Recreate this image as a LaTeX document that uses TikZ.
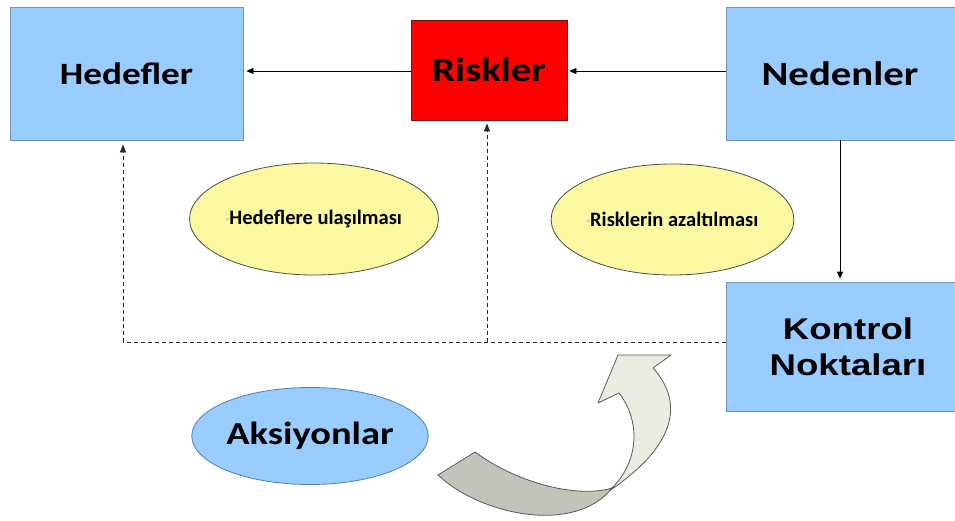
\documentclass[tikz,border=0pt]{standalone}
\usepackage{fontspec}
\usetikzlibrary{arrows.meta,shapes.geometric}
\newfontfamily\cbf[FakeStretch=1.2]{Carlito}
\newfontfamily\cbn{Carlito}
\newfontfamily\abf[FakeStretch=1.22]{Liberation Sans}
\definecolor{lblue}{HTML}{99CCFF}
\definecolor{bborder}{HTML}{7090B8}
\definecolor{rfill}{HTML}{FF0000}
\definecolor{rborder}{HTML}{7A1010}
\definecolor{yfill}{HTML}{FAF8A0}
\definecolor{aborder}{HTML}{4F7FB5}
\definecolor{darkband}{HTML}{C4C3BA}
\definecolor{lightband}{HTML}{ECEBE2}
\tikzset{
  bluebox/.style={draw=bborder, fill=lblue, line width=0.8pt, inner sep=0pt},
  redbox/.style={draw=rborder, fill=rfill, line width=0.8pt, inner sep=0pt},
  yell/.style={ellipse, draw=black!70, fill=yfill, line width=0.8pt, inner sep=0pt},
  arr/.style={-{Triangle[length=7pt,width=6pt]}, line width=0.8pt, black},
  dashline/.style={line width=0.8pt, black!85, dash pattern=on 4pt off 3pt},
  dasharr/.style={dashline, -{Triangle[length=8pt,width=6pt]}},
}
\begin{document}
\begin{tikzpicture}[x=1pt,y=-1pt]
\useasboundingbox (0,0) rectangle (955,520);
\clip (0,0) rectangle (955,520);

% boxes
\node[bluebox, minimum width=233pt, minimum height=133pt] (hed) at (126.5,73.5)
  {\cbf\bfseries\fontsize{31}{35}\selectfont Hedefler};
\node[redbox, minimum width=156pt, minimum height=100pt] (ris) at (489,70)
  {\cbf\bfseries\fontsize{34}{38}\selectfont Riskler};
\node[bluebox, minimum width=232pt, minimum height=133pt] (ned) at (842,73.5)
  {\hspace*{-4pt}\cbf\bfseries\fontsize{34}{38}\selectfont Nedenler};
\node[bluebox, minimum width=232pt, minimum height=129pt, align=center,
      font=\abf\bfseries\fontsize{30}{36}\selectfont, text depth=0pt] (kon) at (842,346.5)
  {\hspace*{12pt}Kontrol\\\hspace*{12pt}Noktaları};

% ellipses
\node[yell, minimum width=226pt, minimum height=112pt] (e1) at (314,219)
  {\raisebox{-7pt}{\cbn\bfseries\fontsize{20.5}{24}\selectfont{\color{black!20}\fontsize{7}{7}\selectfont\raisebox{3pt}{•}}Hedeflere ulaşılması}};
\node[yell, minimum width=225pt, minimum height=111pt] (e2) at (672.5,219.5)
  {\raisebox{-7pt}{\cbn\bfseries\fontsize{20.5}{24}\selectfont{\color{black!20}\fontsize{7}{7}\selectfont\raisebox{3pt}{•}}Risklerin azaltılması}};
\node[ellipse, draw=aborder, fill=lblue, line width=0.8pt, inner sep=0pt,
      minimum width=236pt, minimum height=97pt] (aks) at (310,436)
  {\cbf\bfseries\fontsize{32}{36}\selectfont Aksiyonlar};

% solid arrows
\coordinate (ya) at (0,71);
\draw[arr, shorten >=3pt] (ris.west |- ya) -- (hed.east |- ya);
\draw[arr, shorten >=2pt] (ned.west |- ya) -- (ris.east |- ya);
\coordinate (xv) at (840,0);
\draw[arr, shorten >=3pt] (ned.south -| xv) -- (kon.north -| xv);

% dashed connectors
\coordinate (d1) at (123,342);
\coordinate (d2) at (487,342);
\draw[dashline] (kon.west |- d1) -- (d1);
\draw[dasharr, shorten >=4pt] (d1) -- (hed.south -| d1);
\draw[dasharr, shorten >=3pt] (d2) -- (ris.south -| d2);

% curved arrow
\draw[fill=lightband, draw=black!65, line width=0.8pt, line join=round]
  (612,488) .. controls (640,460) and (640,420) .. (619,393)
  -- (598,403) -- (618,355) -- (671,355) -- (653,368)
  .. controls (682,400) and (682,445) .. (600,497) -- cycle;
\draw[fill=darkband, draw=black!65, line width=0.8pt, line join=round]
  (438,475) .. controls (480,515) and (575,535) .. (612,488)
  .. controls (580,498) and (520,485) .. (475,452) -- cycle;
\end{tikzpicture}
\end{document}
